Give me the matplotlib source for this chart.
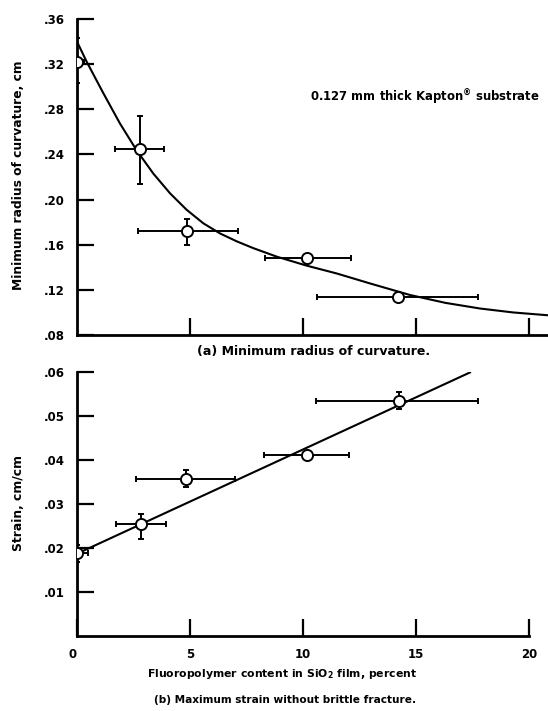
import matplotlib
matplotlib.use('Agg')
import matplotlib.pyplot as plt
import numpy as np

plt.rcParams['font.family'] = ['DejaVu Sans']
plt.rcParams['font.weight'] = 'bold'

# (a) minimum radius of curvature, cm
x_a = [0.0, 2.79, 4.85, 10.16, 14.22]
y_a = [0.322, 0.245, 0.172, 0.1485, 0.1133]
x_lo_a = [0.0, 1.67, 2.71, 8.32, 10.63]
x_hi_a = [0.3, 3.86, 7.14, 12.12, 17.73]
y_lo_a = [0.3036, 0.214, 0.160, 0.1485, 0.1133]
y_hi_a = [0.343, 0.2742, 0.1827, 0.1485, 0.1133]

# fitted curve
curve_x = [0.0, 0.42, 1.16, 1.9, 2.64, 3.38, 4.12, 4.85, 5.59, 6.33, 7.07, 7.8,
           8.83, 10.16, 11.5, 13.0, 14.73, 16.3, 17.83, 19.3, 20.84]
curve_y = [0.340, 0.3225, 0.2945, 0.2675, 0.2436, 0.223, 0.2055, 0.191, 0.179,
           0.170, 0.163, 0.157, 0.1495, 0.1415, 0.1345, 0.1255, 0.1155, 0.1085,
           0.1035, 0.1000, 0.0975]

# (b) maximum strain, cm/cm
x_b = [0.0, 2.82, 4.82, 10.16, 14.26]
y_b = [0.0188, 0.0254, 0.0357, 0.0411, 0.0533]
x_lo_b = [0.0, 1.73, 2.6, 8.29, 10.58]
x_hi_b = [0.5, 3.94, 7.0, 12.04, 17.73]
y_lo_b = [0.0169, 0.0221, 0.0338, 0.0411, 0.0515]
y_hi_b = [0.0207, 0.0277, 0.0378, 0.0411, 0.0554]

line_x = [0.0, 17.39]
line_y = [0.0187, 0.0599]

fig = plt.figure(figsize=(5.48, 7.11), dpi=100)
ax1 = fig.add_axes([0.1405, 0.5288, 0.8595, 0.4444])
ax2 = fig.add_axes([0.1405, 0.1055, 0.8248, 0.3713])

lw = 1.5
ebkw = dict(fmt='o', color='black', mfc='white', mec='black', ms=8, mew=1.4,
            elinewidth=1.4, capsize=2.5, capthick=1.4, zorder=3)


def err(v, lo, hi):
    v = np.array(v)
    return [v - np.array(lo), np.array(hi) - v]


ax1.plot(curve_x, curve_y, color='black', linewidth=lw)
ax1.errorbar(x_a, y_a, xerr=err(x_a, x_lo_a, x_hi_a), yerr=err(y_a, y_lo_a, y_hi_a), **ebkw)
ax1.set_xlim(0, 20.84)
ax1.set_ylim(0.08, 0.36)
ax1.set_yticks([0.08, 0.12, 0.16, 0.20, 0.24, 0.28, 0.32, 0.36])
ax1.set_yticklabels(['.08', '.12', '.16', '.20', '.24', '.28', '.32', '.36'])
ax1.set_xticks([5, 10, 15, 20])
ax1.set_xticklabels([])

ax2.plot(line_x, line_y, color='black', linewidth=lw)
ax2.errorbar(x_b, y_b, xerr=err(x_b, x_lo_b, x_hi_b), yerr=err(y_b, y_lo_b, y_hi_b), **ebkw)
ax2.set_xlim(0, 20)
ax2.set_ylim(0, 0.06)
ax2.set_yticks([0.01, 0.02, 0.03, 0.04, 0.05, 0.06])
ax2.set_yticklabels(['.01', '.02', '.03', '.04', '.05', '.06'])
ax2.set_xticks([0, 5, 10, 15, 20])
ax2.set_xticklabels(['0', '5', '10', '15', '20'])

for ax in (ax1, ax2):
    ax.spines['top'].set_visible(False)
    ax.spines['right'].set_visible(False)
    ax.spines['left'].set_linewidth(2)
    ax.spines['bottom'].set_linewidth(2)
    ax.tick_params(direction='in', length=12, width=1.6, labelsize=8.5, pad=9)
    for t in ax.get_xticklabels() + ax.get_yticklabels():
        t.set_fontweight('bold')

# the "0" sits left of the axis in the original
ax2.get_xticklabels()[0].set_horizontalalignment('right')

fig.text(0.033, 0.754, 'Minimum radius of curvature, cm', rotation=90,
         ha='center', va='center', fontsize=8.8)
fig.text(0.033, 0.2925, 'Strain, cm/cm', rotation=90,
         ha='center', va='center', fontsize=8.9)
fig.text(0.566, 0.8636, '0.127 mm thick Kapton$^{®}$ substrate',
         ha='left', va='center', fontsize=8.4)
fig.text(0.573, 0.505, '(a) Minimum radius of curvature.',
         ha='center', va='center', fontsize=9)
fig.text(0.515, 0.052, 'Fluoropolymer content in SiO$_2$ film, percent',
         ha='center', va='center', fontsize=7.8)
fig.text(0.52, 0.0155, '(b) Maximum strain without brittle fracture.',
         ha='center', va='center', fontsize=7.6)

fig.savefig('out.png', dpi=100)
